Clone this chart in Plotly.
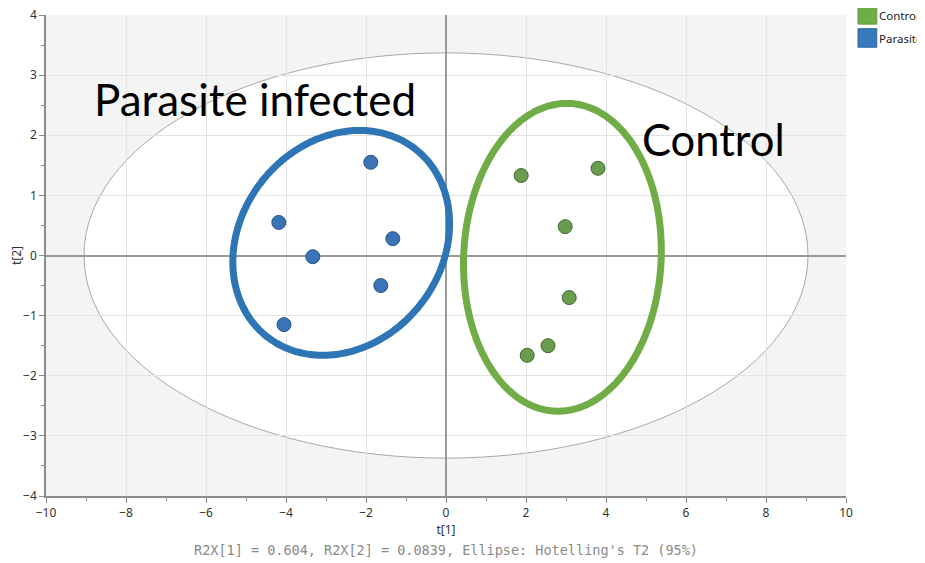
import numpy as np
import plotly.graph_objects as go

# ---- data ----
parasite_t1 = [-1.88, -4.18, -3.33, -1.33, -1.63, -4.05]
parasite_t2 = [1.55, 0.55, -0.02, 0.28, -0.50, -1.15]
control_t1 = [1.88, 3.80, 2.98, 3.08, 2.55, 2.03]
control_t2 = [1.33, 1.45, 0.48, -0.70, -1.50, -1.66]

hotelling_a = 9.05
hotelling_b = 3.37

# hand-drawn group ellipses: centre, top-point vector, horizontal half-width
blue_ring = dict(cx=-2.62, cy=0.21, ux=0.46, uy=1.87, h=2.67)
green_ring = dict(cx=2.91, cy=-0.03, ux=0.11, uy=2.56, h=2.47)

x_ticks = list(range(-10, 11, 2))
y_ticks = list(range(-4, 5, 1))

caption = "R2X[1] = 0.604, R2X[2] = 0.0839, Ellipse: Hotelling's T2 (95%)"


def ring(p):
    t = np.linspace(0, 2 * np.pi, 240)
    x = p["cx"] + p["ux"] * np.cos(t) + p["h"] * np.sin(t)
    y = p["cy"] + p["uy"] * np.cos(t)
    return x, y


fig = go.Figure()

bx, by = ring(blue_ring)
gx, gy = ring(green_ring)
fig.add_trace(go.Scatter(x=bx, y=by, mode="lines",
                         line=dict(color="#2e75b6", width=7, shape="spline"), hoverinfo="skip"))
fig.add_trace(go.Scatter(x=gx, y=gy, mode="lines",
                         line=dict(color="#70ad47", width=7, shape="spline"), hoverinfo="skip"))

fig.add_trace(go.Scatter(x=parasite_t1, y=parasite_t2, mode="markers",
                         marker=dict(size=14, color="#3b74b6",
                                     line=dict(color="#25548a", width=1))))
fig.add_trace(go.Scatter(x=control_t1, y=control_t2, mode="markers",
                         marker=dict(size=14, color="#6a9c50",
                                     line=dict(color="#3e6a2b", width=1))))

fig.add_shape(type="circle", xref="x", yref="y",
              x0=-hotelling_a, x1=hotelling_a, y0=-hotelling_b, y1=hotelling_b,
              fillcolor="white", line=dict(color="#a8a8a8", width=1), layer="below")

# group labels
fig.add_annotation(x=-4.78, y=2.6, text="Parasite infected", showarrow=False,
                   font=dict(family="Lato", size=44, color="black"))
fig.add_annotation(x=6.68, y=1.93, text="Control", showarrow=False,
                   font=dict(family="Lato", size=43.5, color="black"))

# legend (cut at the right edge like the reference)
fig.add_shape(type="rect", xref="paper", yref="paper",
              x0=1.015, x1=1.0385, y0=1.0195, y1=0.981, fillcolor="#70ad47",
              line=dict(color="#5f9a3b", width=1))
fig.add_shape(type="rect", xref="paper", yref="paper",
              x0=1.015, x1=1.0385, y0=0.9715, y1=0.933, fillcolor="#3a78bd",
              line=dict(color="#2e65a3", width=1))
fig.add_annotation(xref="paper", yref="paper", x=1.0385, y=1.0, text="Control",
                   showarrow=False, xanchor="left", yanchor="middle",
                   font=dict(family="Noto Sans", size=11.5, color="#222"))
fig.add_annotation(xref="paper", yref="paper", x=1.0385, y=0.952, text="Parasite",
                   showarrow=False, xanchor="left", yanchor="middle",
                   font=dict(family="Noto Sans", size=11.5, color="#222"))

fig.add_annotation(xref="paper", yref="paper", x=0.5, y=-0.112, text=caption,
                   showarrow=False, xanchor="center", yanchor="middle",
                   font=dict(family="DejaVu Sans Mono", size=13.5, color="#8a8a8a"))

axis_common = dict(showgrid=True, gridcolor="#e3e3e3", gridwidth=1,
                   zeroline=True, zerolinecolor="#9a9a9a", zerolinewidth=2,
                   showline=True, linecolor="#8c8c8c", linewidth=1.5,
                   ticks="outside", ticklen=5, tickcolor="#8c8c8c",
                   tickfont=dict(family="Noto Sans", size=12, color="#333"),
                   ticklabeloverflow="allow",
                   mirror=False, automargin=False)

fig.update_xaxes(range=[-10, 10], tickvals=x_ticks, title=dict(text="t[1]", standoff=0,
                 font=dict(family="Noto Sans", size=12, color="#333")),
                 minor=dict(dtick=1, ticks="outside", ticklen=3, tickcolor="#8c8c8c",
                            showgrid=False),
                 **axis_common)
fig.update_yaxes(range=[-4, 4], tickvals=y_ticks, title=dict(text="t[2]", standoff=0,
                 font=dict(family="Noto Sans", size=12, color="#333")),
                 minor=dict(dtick=0.5, ticks="outside", ticklen=3, tickcolor="#8c8c8c",
                            showgrid=False),
                 **axis_common)

# page body has an 8px margin, so the figure is sized to fill the rest of the window
fig.update_layout(width=917, height=555, showlegend=False,
                  margin=dict(l=38, r=79, t=7, b=67),
                  plot_bgcolor="#f4f4f4", paper_bgcolor="white")

fig.write_html("out.html")
